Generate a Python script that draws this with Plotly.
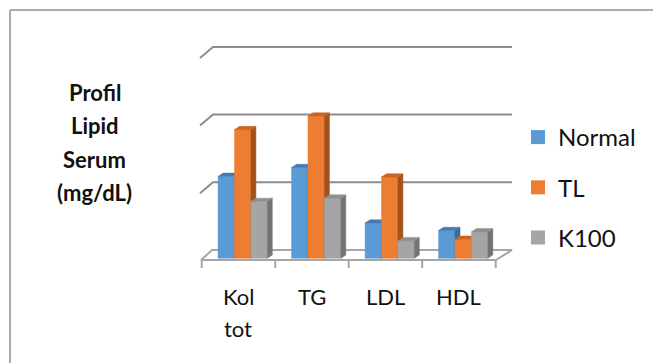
import plotly.graph_objects as go

# ---- data -----------------------------------------------------------------
categories = ["Kol<br>tot", "TG", "LDL", "HDL"]
series_names = ["Normal", "TL", "K100"]
normal = [121, 134, 52, 41]
tl = [190, 210, 120, 28]
k100 = [84, 89, 26, 39]
grid_values = [100, 200, 300]

series_values = [normal, tl, k100]
front_colors = ["#5B9BD5", "#ED7D31", "#A5A5A5"]
top_colors = ["#4679b3", "#c9651f", "#8f8f8f"]
side_colors = ["#3b6a99", "#a4511b", "#747474"]

# ---- canvas / plot-area geometry (pixels) ---------------------------------
W, H = 653, 363
PL, PR, PT, PB = 190, 520, 35, 275          # plot area edges
CAT_PX = 73.5                               # pixels per category
VAL_PX = 0.677                              # pixels per mg/dL
X0_PX, Y0_PX = 242.7, 258.3                 # category 0 / value 0 in bar plane


def dx(px):
    """pixel x -> data x"""
    return (px - X0_PX) / CAT_PX


def dy(py):
    """pixel y -> data y"""
    return (Y0_PX - py) / VAL_PX


def py_paper(py):
    return (PB - py) / (PB - PT)


def px_paper(px):
    return (px - PL) / (PR - PL)


x_range = [dx(PL), dx(PR)]
y_range = [dy(PB), dy(PT)]

# depth of a column and of the floor/back wall, in data units
BAR_DX, BAR_DY = 5 / CAT_PX, 3.3 / VAL_PX
WALL_BACK = 8.3 / VAL_PX          # back wall 0-line above bar-plane 0
SIDE_DX, SIDE_DY = 13 / CAT_PX, 11 / VAL_PX

BAR_W = 0.2233
GROUP_W = BAR_W * len(series_names)

fig = go.Figure()

GRID_COL = "#8c8c8c"
FLOOR_COL = "#a6a6a6"

# back-wall gridlines with their slanted side-wall part
left_back, right_back, left_front = dx(213), dx(512), dx(200)
for g in grid_values:
    yb = g + WALL_BACK
    fig.add_trace(go.Scatter(
        x=[left_front, left_back, right_back], y=[yb - SIDE_DY, yb, yb],
        mode="lines", line=dict(color=GRID_COL, width=2),
        hoverinfo="skip", showlegend=False))

# floor
fl_front, fl_back = dy(260), WALL_BACK
fig.add_trace(go.Scatter(
    x=[dx(201), dx(496), dx(512), dx(212), dx(201)],
    y=[fl_front, fl_front, fl_back, fl_back, fl_front],
    mode="lines", fill="toself", fillcolor="white",
    line=dict(color=FLOOR_COL, width=2),
    hoverinfo="skip", showlegend=False))

# category tick marks under the floor
for k in range(len(categories) + 1):
    xt = dx(201.7) + k
    fig.add_trace(go.Scatter(
        x=[xt, xt], y=[fl_front, dy(268)], mode="lines",
        line=dict(color=FLOOR_COL, width=2),
        hoverinfo="skip", showlegend=False))

# 3-D columns: front, right side and top faces
for i in range(len(categories)):
    for j, vals in enumerate(series_values):
        v = vals[i]
        x0 = i - GROUP_W / 2 + j * BAR_W
        x1 = x0 + BAR_W
        faces = [
            ([x0, x1, x1, x0, x0], [0, 0, v, v, 0], front_colors[j]),
            ([x1, x1 + BAR_DX, x1 + BAR_DX, x1, x1],
             [0, BAR_DY, v + BAR_DY, v, 0], side_colors[j]),
            ([x0, x1, x1 + BAR_DX, x0 + BAR_DX, x0],
             [v, v, v + BAR_DY, v + BAR_DY, v], top_colors[j]),
        ]
        for fx, fy, col in faces:
            fig.add_trace(go.Scatter(
                x=fx, y=fy, mode="lines", fill="toself", fillcolor=col,
                line=dict(color=col, width=0.5),
                hoverinfo="skip", showlegend=False))

# legend entries
for j, name in enumerate(series_names):
    fig.add_trace(go.Scatter(
        x=[None], y=[None], mode="markers", name=name,
        legendgroup=name,
        marker=dict(symbol="square", size=14, color=front_colors[j])))

# category labels
label_font = dict(family="Lato, Carlito, sans-serif", size=22, color="#111111")
for i, cat in enumerate(categories):
    for li, line in enumerate(cat.split("<br>")):
        fig.add_annotation(
            x=dx(238.45) + i, y=py_paper(296 + 32 * li),
            xref="x", yref="paper", text=line, showarrow=False,
            xanchor="center", yanchor="middle", font=label_font)

# axis title, one line at a time
title_lines = ["Profil", "Lipid", "Serum", "(mg/dL)"]
for li, line in enumerate(title_lines):
    fig.add_annotation(
        x=px_paper(95), y=py_paper(92 + 33.5 * li), xref="paper", yref="paper",
        text=f"<b>{line}</b>", showarrow=False,
        xanchor="center", yanchor="middle",
        font=dict(family="Lato, Carlito, sans-serif", size=22, color="#111111"))

# chart border (top and left edges)
for x0p, y0p, x1p, y1p in [(10, 10, W, 10), (10, 10, 10, H)]:
    fig.add_shape(type="line", xref="paper", yref="paper",
                  x0=px_paper(x0p), y0=py_paper(y0p),
                  x1=px_paper(x1p), y1=py_paper(y1p),
                  line=dict(color="#ababab", width=2))

fig.update_layout(
    width=W, height=H,
    margin=dict(l=PL, r=W - PR, t=PT, b=H - PB, pad=0),
    paper_bgcolor="white", plot_bgcolor="rgba(0,0,0,0)",
    xaxis=dict(range=x_range, visible=False, fixedrange=True),
    yaxis=dict(range=y_range, visible=False, fixedrange=True),
    showlegend=True,
    legend=dict(x=px_paper(518), y=py_paper(115), xanchor="left", yanchor="top",
                font=dict(family="Lato, Carlito, sans-serif", size=24,
                          color="#111111"),
                tracegroupgap=16, bgcolor="rgba(0,0,0,0)"),
)

fig.write_html("out.html")
